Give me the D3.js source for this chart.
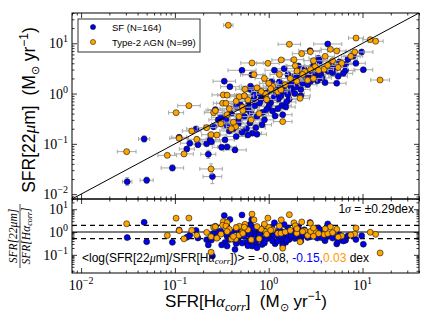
<!DOCTYPE html>
<html>
<head>
<meta charset="utf-8">
<script src="https://cdn.jsdelivr.net/npm/d3@7"></script>
<style>
  body { margin: 0; background: #fff; }
</style>
</head>
<body>
<div id="chart"></div>
<script>
// SFR(H-alpha corrected) vs SFR(22um): [sfrHa, sfr22, xerr (dex), yerr (dex)]
const sfPoints = [
  [0.031, 0.0177, 0.05, 0.08], [0.050, 0.0189, 0.07, 0.06], [0.047, 0.125, 0.06, 0.06],
  [0.094, 0.0332, 0.12, 0.06], [0.111, 0.135, 0.08, 0.05], [0.144, 0.103, 0.10, 0.05],
  [0.134, 0.079, 0.08, 0.05], [0.168, 0.198, 0.10, 0.05], [0.176, 0.096, 0.10, 0.05],
  [0.218, 0.100, 0.08, 0.04], [0.237, 0.120, 0.10, 0.05], [0.245, 0.110, 0.10, 0.05],
  [0.227, 0.062, 0.08, 0.08], [0.251, 0.0223, 0.10, 0.14], [0.270, 0.478, 0.08, 0.05],
  [0.259, 0.220, 0.10, 0.05], [0.290, 0.300, 0.10, 0.05], [4.26, 9.68, 0.15, 0.04],
  [2.76, 7.13, 0.12, 0.04], [9.80, 6.71, 0.12, 0.04], [7.98, 5.59, 0.10, 0.04],
  [3.38, 5.03, 0.10, 0.04], [3.50, 4.40, 0.10, 0.04], [5.66, 4.25, 0.10, 0.04],
  [6.60, 3.80, 0.10, 0.04], [10.2, 2.98, 0.10, 0.04], [6.60, 2.90, 0.10, 0.04],
  [6.25, 2.53, 0.10, 0.04], [5.31, 1.60, 0.10, 0.04], [3.98, 1.65, 0.10, 0.04],
  [5.00, 3.30, 0.10, 0.04], [4.30, 2.80, 0.10, 0.04], [3.20, 2.30, 0.10, 0.04],
  [2.07, 3.54, 0.12, 0.04], [2.10, 2.50, 0.10, 0.04], [2.70, 2.10, 0.10, 0.04],
  [1.60, 2.40, 0.10, 0.04], [1.46, 3.13, 0.12, 0.04], [1.15, 2.90, 0.10, 0.04],
  [0.519, 2.90, 0.15, 0.04], [0.66, 2.36, 0.12, 0.04], [0.336, 1.76, 0.12, 0.04],
  [0.386, 1.37, 0.10, 0.04], [0.64, 1.40, 0.10, 0.04], [0.64, 1.20, 0.10, 0.04],
  [1.08, 1.73, 0.10, 0.04], [1.42, 1.40, 0.10, 0.04], [1.70, 1.45, 0.10, 0.04],
  [2.20, 1.20, 0.10, 0.04], [0.83, 0.78, 0.10, 0.04], [0.92, 0.85, 0.10, 0.04],
  [1.05, 0.66, 0.10, 0.04], [1.27, 0.78, 0.10, 0.04], [1.38, 0.58, 0.10, 0.04],
  [1.52, 0.54, 0.10, 0.04], [1.65, 0.77, 0.10, 0.04], [0.71, 0.57, 0.10, 0.04],
  [0.56, 0.48, 0.10, 0.04], [0.64, 0.42, 0.10, 0.04], [0.86, 0.42, 0.10, 0.04],
  [1.17, 0.359, 0.10, 0.04], [1.41, 0.38, 0.10, 0.04], [0.308, 0.337, 0.10, 0.04],
  [0.257, 0.22, 0.10, 0.04], [0.474, 0.249, 0.10, 0.04], [0.63, 0.26, 0.10, 0.04],
  [0.73, 0.21, 0.10, 0.04], [0.668, 0.163, 0.10, 0.04], [0.75, 0.155, 0.10, 0.04],
  [0.85, 0.24, 0.10, 0.04], [0.36, 0.23, 0.10, 0.04], [0.38, 0.18, 0.10, 0.04],
  [0.342, 0.12, 0.10, 0.04], [0.315, 0.0855, 0.10, 0.05], [0.36, 0.087, 0.10, 0.05],
  [0.437, 0.0757, 0.12, 0.05], [0.90, 1.00, 0.10, 0.04], [1.00, 1.10, 0.10, 0.04],
  [1.10, 1.25, 0.10, 0.04], [1.20, 1.05, 0.10, 0.04], [1.30, 1.30, 0.10, 0.04],
  [1.50, 1.10, 0.10, 0.04], [1.80, 1.70, 0.10, 0.04], [2.00, 1.90, 0.10, 0.04],
  [2.30, 1.60, 0.10, 0.04], [2.50, 2.00, 0.10, 0.04], [2.90, 2.60, 0.10, 0.04],
  [3.10, 2.00, 0.10, 0.04], [3.60, 2.40, 0.10, 0.04], [4.00, 3.10, 0.10, 0.04],
  [4.60, 3.60, 0.10, 0.04], [5.50, 2.20, 0.10, 0.04], [7.00, 4.80, 0.10, 0.04],
  [8.50, 4.00, 0.10, 0.04], [3.00, 3.60, 0.10, 0.04], [2.40, 3.00, 0.10, 0.04],
  [1.90, 2.20, 0.10, 0.04], [1.30, 1.70, 0.10, 0.04], [1.00, 0.55, 0.10, 0.04],
  [0.95, 0.48, 0.10, 0.04], [1.10, 0.45, 0.10, 0.04], [0.80, 0.65, 0.10, 0.04],
  [0.70, 0.80, 0.10, 0.04], [0.60, 0.70, 0.10, 0.04], [0.50, 0.60, 0.10, 0.04],
  [0.45, 0.55, 0.10, 0.04], [0.55, 0.35, 0.10, 0.04], [0.48, 0.30, 0.10, 0.04],
  [0.40, 0.40, 0.10, 0.04], [0.35, 0.30, 0.10, 0.04], [0.42, 0.20, 0.10, 0.04],
  [0.58, 0.20, 0.10, 0.04], [0.60, 0.15, 0.10, 0.04], [0.52, 0.17, 0.10, 0.04],
  [0.45, 0.14, 0.10, 0.04], [0.75, 0.35, 0.10, 0.04], [0.90, 0.30, 0.10, 0.04],
  [1.25, 0.50, 0.10, 0.04], [1.60, 0.95, 0.10, 0.04], [1.90, 1.00, 0.10, 0.04],
  [2.60, 1.50, 0.10, 0.04], [3.30, 1.80, 0.10, 0.04], [4.80, 2.60, 0.10, 0.04],
  [1.35, 0.90, 0.10, 0.04], [0.80, 1.00, 0.10, 0.04], [0.75, 1.15, 0.10, 0.04],
  [0.55, 0.90, 0.10, 0.04], [0.70, 0.95, 0.10, 0.04], [2.20, 0.90, 0.10, 0.04],
  [1.75, 1.20, 0.10, 0.04], [1.15, 0.85, 0.10, 0.04], [1.55, 0.68, 0.10, 0.04],
  [1.95, 1.35, 0.10, 0.04], [2.80, 1.75, 0.10, 0.04], [0.98, 0.72, 0.10, 0.04],
  [0.62, 0.55, 0.10, 0.04], [3.70, 2.05, 0.10, 0.04]
];

const agnPoints = [
  [0.0306, 0.070, 0.10, 0.04], [0.141, 0.575, 0.12, 0.04], [0.103, 0.417, 0.08, 0.04],
  [0.083, 0.059, 0.10, 0.04], [0.111, 0.129, 0.10, 0.04], [0.125, 0.063, 0.10, 0.04],
  [0.151, 0.180, 0.10, 0.05], [0.171, 0.123, 0.10, 0.05], [0.218, 0.210, 0.10, 0.05],
  [0.243, 0.152, 0.10, 0.05], [0.243, 0.0317, 0.12, 0.10], [0.259, 0.417, 0.10, 0.05],
  [0.371, 22.8, 0.05, 0.03], [8.53, 12.7, 0.08, 0.03], [12.1, 11.8, 0.08, 0.03],
  [13.8, 10.96, 0.08, 0.03], [15.4, 1.86, 0.10, 0.03], [1.66, 9.55, 0.12, 0.03],
  [4.54, 7.59, 0.10, 0.03], [5.31, 7.03, 0.10, 0.03], [8.26, 6.71, 0.10, 0.03],
  [2.25, 6.22, 0.10, 0.03], [2.78, 6.82, 0.10, 0.03], [0.664, 4.06, 0.12, 0.03],
  [0.98, 4.00, 0.12, 0.03], [1.36, 4.66, 0.10, 0.03], [1.86, 4.72, 0.10, 0.03],
  [0.697, 2.38, 0.12, 0.03], [1.92, 3.59, 0.10, 0.03], [2.42, 2.72, 0.10, 0.03],
  [3.12, 3.43, 0.10, 0.03], [3.89, 3.04, 0.10, 0.03], [4.26, 3.65, 0.10, 0.03],
  [0.559, 1.22, 0.10, 0.04], [0.328, 0.94, 0.12, 0.04], [0.360, 0.93, 0.10, 0.04],
  [0.323, 0.641, 0.10, 0.04], [0.350, 0.640, 0.10, 0.04], [0.270, 0.457, 0.10, 0.04],
  [0.486, 0.867, 0.10, 0.04], [0.524, 0.535, 0.10, 0.04], [0.93, 0.98, 0.10, 0.04],
  [0.83, 1.10, 0.10, 0.04], [1.25, 1.09, 0.10, 0.04], [1.35, 1.19, 0.10, 0.04],
  [2.16, 0.805, 0.10, 0.04], [1.99, 1.76, 0.10, 0.04], [2.60, 1.84, 0.10, 0.04],
  [3.00, 2.00, 0.10, 0.04], [3.40, 2.90, 0.10, 0.04], [0.445, 0.220, 0.10, 0.04],
  [0.400, 0.200, 0.10, 0.04], [0.482, 0.348, 0.10, 0.04], [0.530, 0.460, 0.10, 0.04],
  [1.41, 0.277, 0.10, 0.04], [0.79, 0.400, 0.10, 0.04], [0.95, 0.760, 0.10, 0.04],
  [0.60, 0.75, 0.10, 0.04], [1.10, 1.40, 0.10, 0.04], [1.50, 1.50, 0.10, 0.04],
  [1.70, 2.00, 0.10, 0.04], [2.30, 2.40, 0.10, 0.04], [2.80, 3.00, 0.10, 0.04],
  [4.80, 4.50, 0.10, 0.04], [6.00, 4.00, 0.10, 0.04], [7.50, 5.50, 0.10, 0.04],
  [0.45, 0.70, 0.10, 0.04], [0.38, 0.50, 0.10, 0.04], [1.00, 1.60, 0.10, 0.04],
  [0.75, 1.30, 0.10, 0.04], [0.55, 0.90, 0.10, 0.04], [0.90, 2.00, 0.10, 0.04],
  [1.30, 2.40, 0.10, 0.04], [2.00, 2.80, 0.10, 0.04], [0.65, 0.30, 0.10, 0.04],
  [0.42, 0.27, 0.10, 0.04], [0.31, 0.25, 0.10, 0.04], [0.28, 0.15, 0.10, 0.04],
  [5.50, 3.30, 0.10, 0.04], [0.36, 0.38, 0.10, 0.04], [4.00, 5.50, 0.10, 0.04],
  [3.00, 4.50, 0.10, 0.04], [1.05, 1.25, 0.10, 0.04]
];

const legendLabels = ["SF (N=164)", "Type-2 AGN (N=99)"];
const sigmaDex = 0.29;
const meanAll = "-0.08", meanSF = "-0.15", meanAGN = "0.03";
const xTickValues = [0.01, 0.1, 1, 10];
const yTopTickValues = [0.01, 0.1, 1, 10];
const yBotTickValues = [0.1, 1, 10];

const width = 429, height = 323;
const leftPx = 72, rightPx = 419, topPx = 13, midPx = 199, bottomPx = 273;
const serif = "'Liberation Serif', 'DejaVu Serif', serif";
const sfColor = "#0000ee", agnColor = "#ffa500";

const svg = d3.select("#chart").append("svg")
  .attr("width", width).attr("height", height)
  .style("font-family", "'Liberation Sans', Arial, sans-serif");

const x = d3.scaleLog().domain([0.008, 40]).range([leftPx, rightPx]);
const yTop = d3.scaleLog().domain([0.008, 40]).range([midPx, topPx]);
const yBot = d3.scaleLog().domain([0.016, 28]).range([bottomPx, midPx]);

// clip regions for both panels
const defs = svg.append("defs");
defs.append("clipPath").attr("id", "clipTop").append("rect")
  .attr("x", leftPx).attr("y", topPx).attr("width", rightPx - leftPx).attr("height", midPx - topPx);
defs.append("clipPath").attr("id", "clipBot").append("rect")
  .attr("x", leftPx).attr("y", midPx).attr("width", rightPx - leftPx).attr("height", bottomPx - midPx);

// ---- top panel ----
const topG = svg.append("g").attr("clip-path", "url(#clipTop)");

function drawSeries(g, pts, color) {
  const bars = g.append("g").attr("stroke", "#a8a8a8").attr("stroke-width", 1);
  const cap = 2;
  pts.forEach(([hx, sy, ex, ey]) => {
    const cx = x(hx), cy = yTop(sy);
    const xa = x(hx / 10 ** ex), xb = x(hx * 10 ** ex);
    const ya = yTop(sy / 10 ** ey), yb = yTop(sy * 10 ** ey);
    bars.append("line").attr("x1", xa).attr("x2", xb).attr("y1", cy).attr("y2", cy);
    bars.append("line").attr("x1", xa).attr("x2", xa).attr("y1", cy - cap).attr("y2", cy + cap);
    bars.append("line").attr("x1", xb).attr("x2", xb).attr("y1", cy - cap).attr("y2", cy + cap);
    bars.append("line").attr("x1", cx).attr("x2", cx).attr("y1", ya).attr("y2", yb);
    bars.append("line").attr("x1", cx - cap).attr("x2", cx + cap).attr("y1", ya).attr("y2", ya);
    bars.append("line").attr("x1", cx - cap).attr("x2", cx + cap).attr("y1", yb).attr("y2", yb);
  });
  g.append("g").selectAll("circle").data(pts).join("circle")
    .attr("cx", d => x(d[0])).attr("cy", d => yTop(d[1]))
    .attr("r", 3).attr("fill", color)
    .attr("stroke", "#111").attr("stroke-width", 0.6);
}

drawSeries(topG, sfPoints, sfColor);
drawSeries(topG, agnPoints, agnColor);

// one-to-one line
topG.append("line")
  .attr("x1", x(0.008)).attr("y1", yTop(0.008))
  .attr("x2", x(40)).attr("y2", yTop(40))
  .attr("stroke", "#000").attr("stroke-width", 1);

// ---- bottom panel: ratio ----
const botG = svg.append("g").attr("clip-path", "url(#clipBot)");
[[1, null], [10 ** sigmaDex, "5,4"], [10 ** -sigmaDex, "5,4"]].forEach(([v, dash]) => {
  botG.append("line")
    .attr("x1", leftPx).attr("x2", rightPx).attr("y1", yBot(v)).attr("y2", yBot(v))
    .attr("stroke", "#000").attr("stroke-width", 1.1)
    .attr("stroke-dasharray", dash);
});
[[sfPoints, sfColor], [agnPoints, agnColor]].forEach(([pts, color]) => {
  botG.append("g").selectAll("circle").data(pts).join("circle")
    .attr("cx", d => x(d[0])).attr("cy", d => yBot(d[1] / d[0]))
    .attr("r", 3).attr("fill", color)
    .attr("stroke", "#111").attr("stroke-width", 0.6);
});

// ---- frames and ticks ----
function isMajor(v) {
  const e = Math.log10(v);
  return Math.abs(e - Math.round(e)) < 1e-6;
}

function panelTicks(yScale, y0, y1) {
  const xt = x.ticks(), yt = yScale.ticks();
  const xsets = [[xt.filter(isMajor), 5], [xt.filter(v => !isMajor(v)), 2.5]];
  const ysets = [[yt.filter(isMajor), 5], [yt.filter(v => !isMajor(v)), 2.5]];
  const add = (axis, tr) => {
    const g = svg.append("g").attr("transform", tr).call(axis);
    g.select(".domain").remove();
    g.selectAll("line").attr("stroke", "#000").attr("stroke-width", 0.8);
    g.selectAll("text").remove();
  };
  xsets.forEach(([vals, len]) => {
    add(d3.axisBottom(x).tickValues(vals).tickSize(-len).tickSizeOuter(0), `translate(0,${y1})`);
    add(d3.axisTop(x).tickValues(vals).tickSize(-len).tickSizeOuter(0), `translate(0,${y0})`);
  });
  ysets.forEach(([vals, len]) => {
    add(d3.axisLeft(yScale).tickValues(vals).tickSize(-len).tickSizeOuter(0), `translate(${leftPx},0)`);
    add(d3.axisRight(yScale).tickValues(vals).tickSize(-len).tickSizeOuter(0), `translate(${rightPx},0)`);
  });
  svg.append("rect")
    .attr("x", leftPx).attr("y", y0).attr("width", rightPx - leftPx).attr("height", y1 - y0)
    .attr("fill", "none").attr("stroke", "#000").attr("stroke-width", 1);
}
panelTicks(yTop, topPx, midPx);
panelTicks(yBot, midPx, bottomPx);

function powLabel(v, px, py, anchor) {
  const e = Math.round(Math.log10(v));
  const t = svg.append("text")
    .attr("x", px).attr("y", py).attr("text-anchor", anchor)
    .attr("font-family", serif).attr("font-size", 14);
  t.append("tspan").text("10");
  t.append("tspan").attr("font-size", 10).attr("dy", -6)
    .text(e < 0 ? "\u2212" + (-e) : String(e));
}
xTickValues.forEach(v => powLabel(v, x(v), 290, "middle"));
yTopTickValues.forEach(v => powLabel(v, 68, yTop(v) + 5, "end"));
yBotTickValues.forEach(v => powLabel(v, 68, yBot(v) + 5, "end"));

// ---- axis labels ----
const xLabel = svg.append("text")
  .attr("x", 246).attr("y", 307).attr("text-anchor", "middle")
  .attr("font-size", 17).style("white-space", "pre");
xLabel.append("tspan").text("SFR[H");
xLabel.append("tspan").attr("font-family", serif).attr("font-style", "italic").text("\u03b1");
xLabel.append("tspan").attr("font-family", serif).attr("font-style", "italic")
  .attr("font-size", 12).attr("dy", 4).text("corr");
xLabel.append("tspan").attr("dy", -4).text("]  (M");
xLabel.append("tspan").attr("font-size", 11).attr("dy", 4).text("\u2299");
xLabel.append("tspan").attr("dy", -4).text(" yr");
xLabel.append("tspan").attr("font-size", 12).attr("dy", -7).text("\u22121");
xLabel.append("tspan").attr("dy", 7).text(")");

const yLabel = svg.append("text")
  .attr("transform", "translate(35,110) rotate(-90)")
  .attr("text-anchor", "middle").attr("font-size", 17.5).style("white-space", "pre");
yLabel.append("tspan").text("SFR[22");
yLabel.append("tspan").attr("font-family", serif).attr("font-style", "italic").text("\u03bc");
yLabel.append("tspan").text("m]  (M");
yLabel.append("tspan").attr("font-size", 11).attr("dy", 4).text("\u2299");
yLabel.append("tspan").attr("dy", -4).text(" yr");
yLabel.append("tspan").attr("font-size", 12).attr("dy", -7).text("\u22121");
yLabel.append("tspan").attr("dy", 7).text(")");

// ratio label as a stacked fraction
const frac = svg.append("g").attr("transform", "translate(20,236) rotate(-90)")
  .attr("font-family", serif).attr("font-style", "italic").attr("font-size", 11.5);
frac.append("text").attr("x", 0).attr("y", -3).attr("text-anchor", "middle").text("SFR[22\u03bcm]");
frac.append("line").attr("x1", -32).attr("x2", 32).attr("y1", 0).attr("y2", 0)
  .attr("stroke", "#000").attr("stroke-width", 0.7);
const den = frac.append("text").attr("x", 0).attr("y", 10).attr("text-anchor", "middle");
den.append("tspan").text("SFR[H\u03b1");
den.append("tspan").attr("font-size", 8).attr("dy", 2).text("corr");
den.append("tspan").attr("dy", -2).text("]");

// ---- annotations ----
const sig = svg.append("text").attr("x", 414).attr("y", 213)
  .attr("text-anchor", "end").attr("font-size", 12).style("white-space", "pre");
sig.append("tspan").text("1");
sig.append("tspan").attr("font-family", serif).attr("font-style", "italic").text("\u03c3");
sig.append("tspan").text(" = \u00b1" + sigmaDex.toFixed(2) + "dex");

const meanText = svg.append("text").attr("x", 82).attr("y", 262)
  .attr("font-size", 12).style("white-space", "pre");
meanText.append("tspan").text("<log(SFR[22");
meanText.append("tspan").attr("font-family", serif).attr("font-style", "italic").text("\u03bc");
meanText.append("tspan").text("m]/SFR[H");
meanText.append("tspan").attr("font-family", serif).attr("font-style", "italic").text("\u03b1");
meanText.append("tspan").attr("font-family", serif).attr("font-style", "italic")
  .attr("font-size", 9).attr("dy", 2).text("corr");
meanText.append("tspan").attr("dy", -2).text("])> = " + meanAll + ", ");
meanText.append("tspan").attr("fill", "#0000ff").text(meanSF + ",");
meanText.append("tspan").attr("fill", "#ff9900").text(meanAGN);
meanText.append("tspan").text(" dex");

// ---- legend ----
const legend = svg.append("g");
legend.append("rect").attr("x", 78).attr("y", 19).attr("width", 122).attr("height", 33)
  .attr("fill", "#fff").attr("stroke", "#333").attr("stroke-width", 1);
[sfColor, agnColor].forEach((c, i) => {
  legend.append("circle").attr("cx", 93).attr("cy", 27 + i * 15).attr("r", 2.6)
    .attr("fill", c).attr("stroke", "#111").attr("stroke-width", 0.5);
  legend.append("text").attr("x", 112).attr("y", 30.5 + i * 15)
    .attr("font-size", 9.5).text(legendLabels[i]);
});
</script>
</body>
</html>
